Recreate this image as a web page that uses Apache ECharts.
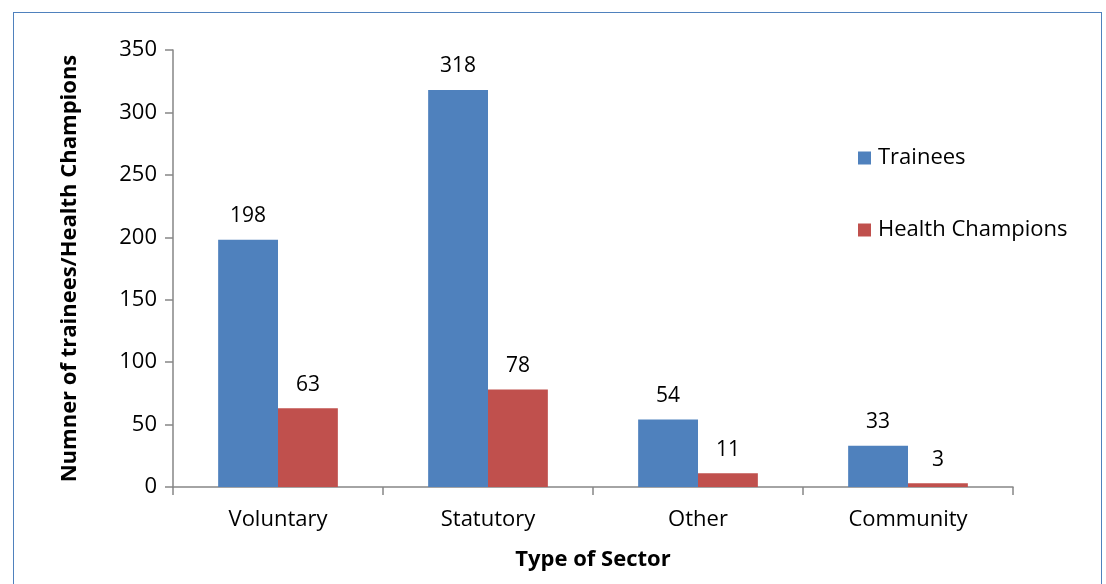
<!DOCTYPE html>
<html>
<head>
<meta charset="utf-8">
<script src="https://cdn.jsdelivr.net/npm/echarts@6/dist/echarts.min.js"></script>
<style>
    html, body { margin: 0; padding: 0; background: #fff; }
    .frame {
        position: absolute;
        left: 13px;
        top: 12px;
        width: 1089px;
        height: 600px;
        border: 1.5px solid #4f81bd;
        box-sizing: border-box;
    }
    #main { width: 1106px; height: 584px; position: absolute; left: 0; top: 0; }
</style>
</head>
<body>
<div class="frame"></div>
<div id="main"></div>
<script>
const categories = ['Voluntary', 'Statutory', 'Other', 'Community'];
const trainees = [198, 318, 54, 33];
const healthChampions = [63, 78, 11, 3];

const font = '"Open Sans", "Noto Sans", sans-serif';

let myChart = echarts.init(document.getElementById('main'));

const labelStyle = {
    show: true,
    position: 'top',
    distance: 13,
    color: '#000',
    fontSize: 21,
    fontFamily: font
};

let option = {
    animation: false,
    textStyle: { fontFamily: font },
    color: ['#4f81bd', '#c0504d'],
    grid: {
        left: 173,
        right: 93,
        top: 50,
        bottom: 97
    },
    legend: {
        orient: 'vertical',
        left: 853,
        top: 142,
        itemWidth: 13,
        itemHeight: 13,
        itemGap: 50,
        icon: 'rect',
        textStyle: { fontSize: 22, color: '#000', fontFamily: font, padding: [0, 0, 0, 2] },
        data: ['Trainees', 'Health Champions']
    },
    xAxis: {
        type: 'category',
        data: categories,
        name: 'Type of Sector',
        nameLocation: 'middle',
        nameGap: 62,
        nameTextStyle: { fontSize: 22, fontWeight: 'bold', color: '#000', fontFamily: font },
        axisLine: { lineStyle: { color: '#868686', width: 1.5 } },
        axisTick: { show: true, length: 8, lineStyle: { color: '#868686', width: 1.5 } },
        axisLabel: { fontSize: 22, color: '#000', margin: 22, fontFamily: font }
    },
    yAxis: {
        type: 'value',
        min: 0,
        max: 350,
        interval: 50,
        name: 'Numner of trainees/Health Champions',
        nameLocation: 'middle',
        nameGap: 92,
        nameTextStyle: { fontSize: 22, fontWeight: 'bold', color: '#000', fontFamily: font },
        axisLine: { show: true, lineStyle: { color: '#868686', width: 1.5 } },
        axisTick: { show: true, length: 8, lineStyle: { color: '#868686', width: 1.5 } },
        splitLine: { show: false },
        axisLabel: { fontSize: 22, color: '#000', margin: 16, fontFamily: font }
    },
    series: [
        {
            name: 'Trainees',
            type: 'bar',
            data: trainees,
            barGap: '0%',
            barCategoryGap: '43%',
            label: labelStyle
        },
        {
            name: 'Health Champions',
            type: 'bar',
            data: healthChampions,
            label: labelStyle
        }
    ]
};

myChart.setOption(option);
</script>
</body>
</html>
